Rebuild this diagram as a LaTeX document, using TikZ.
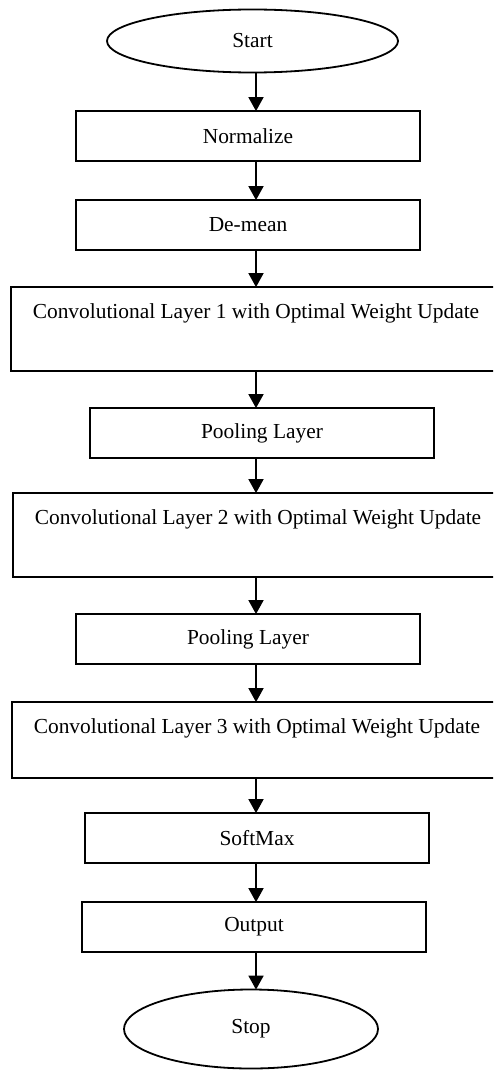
\documentclass[tikz,border=0pt]{standalone}
\usepackage{fontspec}
\setmainfont{Liberation Serif}
\usetikzlibrary{shapes.geometric,arrows.meta}
\begin{document}
\begin{tikzpicture}[x=1pt,y=-1pt,
  lbl/.style={font=\fontsize{21.4}{24}\selectfont, inner sep=0pt},
  boxshape/.style={draw=black, line width=1.8pt, rectangle, inner sep=0pt, fill=white},
  ovalshape/.style={draw=black, line width=1.8pt, ellipse, inner sep=0pt, fill=white},
  arr/.style={line width=1.8pt, -{Triangle[width=15pt,length=14pt]}, shorten >=-1pt}]
\useasboundingbox (0,0) rectangle (493,1070);
\clip (0,0) rectangle (493,1070);
\fill[white] (0,0) rectangle (493,1070);
\coordinate (axis) at (256,0);
% ovals
\node[ovalshape, minimum width=291pt, minimum height=63pt, lbl] (start) at (252.5,41) {Start};
\node[ovalshape, minimum width=254pt, minimum height=79pt, lbl] (stop) at (251,1029) {Stop};
% boxes
\node[boxshape, minimum width=344pt, minimum height=50pt, lbl] (norm) at (248,136) {Normalize};
\node[boxshape, minimum width=344pt, minimum height=50pt, lbl] (demean) at (248,225) {De-mean};
\node[boxshape, minimum width=500pt, minimum height=84pt] (conv1) at (261,329) {};
\node[lbl] (t1) at (256,313) {Convolutional Layer 1 with Optimal Weight Update};
\node[boxshape, minimum width=344pt, minimum height=50pt, lbl] (pool1) at (262,433) {Pooling Layer};
\node[boxshape, minimum width=500pt, minimum height=84pt] (conv2) at (263,535) {};
\node[lbl] (t2) at (258,519) {Convolutional Layer 2 with Optimal Weight Update};
\node[boxshape, minimum width=344pt, minimum height=50pt, lbl] (pool2) at (248,639) {Pooling Layer};
\node[boxshape, minimum width=500pt, minimum height=76pt] (conv3) at (262,740) {};
\node[lbl] (t3) at (257,728) {Convolutional Layer 3 with Optimal Weight Update};
\node[boxshape, minimum width=344pt, minimum height=50pt, lbl] (soft) at (257,838) {SoftMax};
\node[boxshape, minimum width=344pt, minimum height=50pt, lbl] (outp) at (254,927) {Output};
% connectors
\draw[arr] (axis |- start.south) -- (axis |- norm.north);
\draw[arr] (axis |- norm.south) -- (axis |- demean.north);
\draw[arr] (axis |- demean.south) -- (axis |- conv1.north);
\draw[arr] (axis |- conv1.south) -- (axis |- pool1.north);
\draw[arr] (axis |- pool1.south) -- (axis |- conv2.north);
\draw[arr] (axis |- conv2.south) -- (axis |- pool2.north);
\draw[arr] (axis |- pool2.south) -- (axis |- conv3.north);
\draw[arr] (axis |- conv3.south) -- (axis |- soft.north);
\draw[arr] (axis |- soft.south) -- (axis |- outp.north);
\draw[arr] (axis |- outp.south) -- (axis |- stop.north);
\end{tikzpicture}
\end{document}
